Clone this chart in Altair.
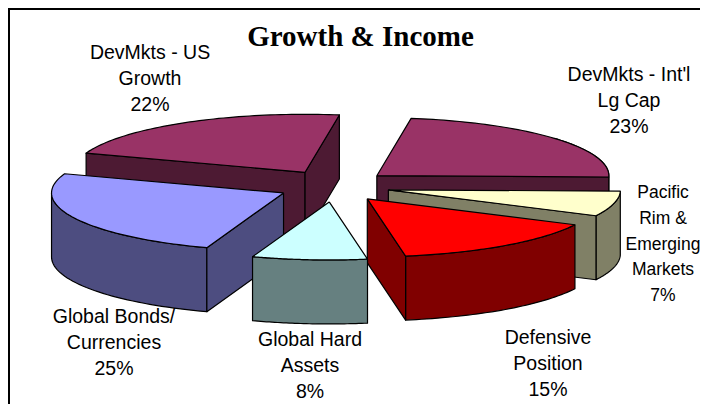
import math
import altair as alt
import pandas as pd

names = ["DevMkts - Int'l\nLg Cap\n23%", "Pacific\nRim &\nEmerging\nMarkets\n7%", "Defensive\nPosition\n15%",
         "Global Hard\nAssets\n8%", "Global Bonds/\nCurrencies\n25%", "DevMkts - US\nGrowth\n22%"]
shares = [23, 7, 15, 8, 25, 22]
top_colors = ["#993366", "#ffffcc", "#ff0000", "#ccffff", "#9999ff", "#993366"]
wall_colors = ["#4d1a33", "#808066", "#800000", "#668080", "#4d4d80", "#4d1a33"]
title_text = "Growth & Income"

# label anchors, as page pixels of the picture (centre x, first baseline y)
label_cx = [629, 663, 548, 310, 114, 150]
label_y = [81, 198, 344, 346, 323, 59]
label_size = [19.5, 17.5, 19.5, 19.5, 19.5, 19.5]

# projection of the tilted pie, page pixels
W, H = 692, 396
CX, CY, R, TILT, DEPTH, EX, EY, START = 334.0, 186.0, 232.0, 0.25, 64.0, 56.0, 16.0, 8.5

x_dom = [(8 - CX) / R, (8 + W - CX) / R]
y_dom = [(8 + H - CY) / R, (8 - CY) / R]

def pt(apex, th, z=0.0):
    t = math.radians(th)
    return (apex[0] + math.sin(t), apex[1] - TILT * math.cos(t) + z)

rows = []
def poly(pid, color, pts):
    pts = list(pts) + [pts[0]]
    for i, (u, v) in enumerate(pts):
        rows.append({"pid": pid, "i": i, "u": u, "v": v, "c": color})

spans = []
a = START
for s in shares:
    spans.append((a, a + s * 3.6))
    a += s * 3.6

apexes = []
for (a0, a1) in spans:
    mid = math.radians((a0 + a1) / 2)
    apexes.append((EX * math.sin(mid) / R, -EY * math.cos(mid) / R))

d = DEPTH / R

def radial_wall(pid, k, th):
    ap = apexes[k]
    p = pt(ap, th)
    q = pt(ap, th, d)
    poly(pid, wall_colors[k], [ap, p, q, (ap[0], ap[1] + d)])

def rim_wall(pid, k, t0, t1):
    ap = apexes[k]
    n = 40
    ths = [t0 + (t1 - t0) * j / n for j in range(n + 1)]
    poly(pid, wall_colors[k], [pt(ap, t) for t in ths] + [pt(ap, t, d) for t in reversed(ths)])

def top(pid, k):
    ap = apexes[k]
    a0, a1 = spans[k]
    n = 60
    ths = [a0 + (a1 - a0) * j / n for j in range(n + 1)]
    poly(pid, top_colors[k], [ap] + [pt(ap, t) for t in ths])

# back to front: US, Int'l, Pacific, Bonds, Defensive, Hard assets
radial_wall("01", 5, spans[5][0])
radial_wall("02", 5, spans[5][1])
top("03", 5)
rim_wall("04", 0, 50, 90)
radial_wall("05", 0, spans[0][1])
top("06", 0)
rim_wall("07", 1, *spans[1])
radial_wall("08", 1, spans[1][1])
top("09", 1)
rim_wall("10", 4, spans[4][0], 270)
radial_wall("11", 4, spans[4][0])
top("12", 4)
rim_wall("13", 2, *spans[2])
radial_wall("14", 2, spans[2][1])
top("15", 2)
rim_wall("16", 3, *spans[3])
top("17", 3)

df = pd.DataFrame(rows)
xs = alt.X("u:Q", scale=alt.Scale(domain=x_dom, nice=False, zero=False), axis=None)
ys = alt.Y("v:Q", scale=alt.Scale(domain=y_dom, nice=False, zero=False), axis=None)

slices = alt.Chart(df).mark_line(filled=True, stroke="black", strokeWidth=1.2, strokeJoin="round", interpolate="linear").encode(
    x=xs, y=ys, detail="pid:N", order="i:Q", fill=alt.Fill("c:N", scale=None))

lab = pd.DataFrame({
    "t": names,
    "u": [(x - CX) / R for x in label_cx],
    "v": [(y - CY) / R for y in label_y],
    "s": label_size,
})
labels = alt.Chart(lab).mark_text(font="Liberation Sans", lineBreak="\n", lineHeight=25.8,
                                  align="center", baseline="alphabetic", color="black").encode(
    x=xs, y=ys, text="t:N", size=alt.Size("s:Q", scale=None))

one = pd.DataFrame({"k": [0]})
frame_top = alt.Chart(one).mark_rule(color="black", strokeWidth=2).encode(x=alt.value(0), x2=alt.value(W), y=alt.value(1))
frame_left = alt.Chart(one).mark_rule(color="black", strokeWidth=2).encode(y=alt.value(0), y2=alt.value(H), x=alt.value(1))

chart = alt.layer(frame_top, frame_left, slices, labels).properties(
    width=W, height=H, padding=0, autosize=alt.AutoSizeParams(type="none"),
    title=alt.TitleParams(title_text, font="Liberation Serif", fontSize=29, fontWeight="bold", color="black",
                          anchor="middle", baseline="alphabetic", offset=-68, dx=6.5),
).configure_view(stroke=None)

chart.save("out.html", embed_options={"renderer": "svg", "actions": False})
